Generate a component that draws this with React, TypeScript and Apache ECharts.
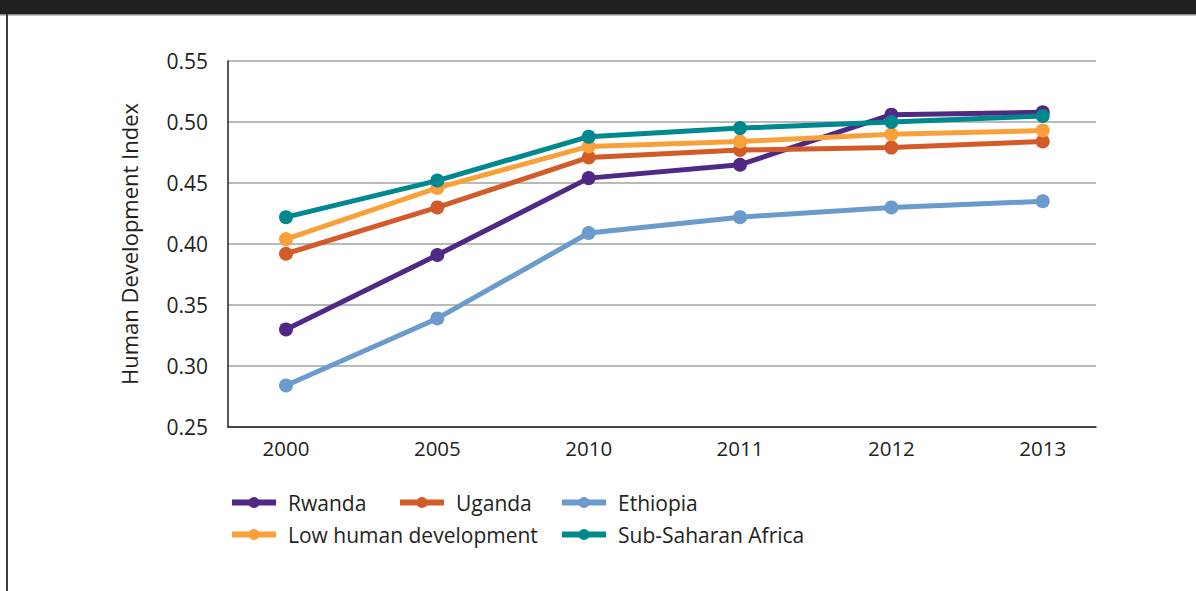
import React, { useEffect, useRef } from "react";
import * as echarts from "echarts";

const years = ["2000", "2005", "2010", "2011", "2012", "2013"];
const seriesNames = ["Rwanda", "Uganda", "Ethiopia", "Low human development", "Sub-Saharan Africa"];
const rwanda = [0.33, 0.391, 0.454, 0.465, 0.506, 0.508];
const uganda = [0.392, 0.43, 0.471, 0.477, 0.479, 0.484];
const ethiopia = [0.284, 0.339, 0.409, 0.422, 0.43, 0.435];
const lowHD = [0.404, 0.446, 0.48, 0.484, 0.49, 0.493];
const ssa = [0.422, 0.452, 0.488, 0.495, 0.5, 0.505];
const colors = ["#4f2984", "#d25b27", "#6a9bcc", "#f8a13a", "#00888f"];

const FONT = "Open Sans";
const TEXT = "#231f20";

export default function App() {
  const ref = useRef<HTMLDivElement>(null);
  useEffect(() => {
    if (!ref.current) return;
    const chart = echarts.init(ref.current, undefined, { renderer: "svg" });
    const all = [rwanda, uganda, ethiopia, lowHD, ssa];
    const legendPos = [
      [229, 499],
      [397, 499],
      [559, 499],
      [229, 531],
      [559, 531],
    ];
    chart.setOption({
      animation: false,
      backgroundColor: "#ffffff",
      grid: { left: 228, top: 61, width: 868, height: 366, containLabel: false },
      xAxis: {
        type: "value",
        min: -0.3832,
        max: 5.352,
        axisLine: { show: true, onZero: false, lineStyle: { color: TEXT, width: 1.5 } },
        axisTick: { show: false },
        splitLine: { show: false },
        axisLabel: {
          customValues: [0, 1, 2, 3, 4, 5],
          formatter: (v: number) => years[Math.round(v)],
          fontFamily: FONT,
          fontSize: 20.5,
          color: TEXT,
          margin: 10,
        },
      },
      yAxis: {
        type: "value",
        min: 0.25,
        max: 0.55,
        interval: 0.05,
        name: "Human Development Index",
        nameLocation: "middle",
        nameGap: 88,
        nameTextStyle: { fontFamily: FONT, fontSize: 22, color: TEXT },
        axisLine: { show: true, onZero: false, lineStyle: { color: TEXT, width: 1.5 } },
        axisTick: { show: false },
        splitLine: { show: true, lineStyle: { color: "#a3a3a3", width: 1.5 } },
        axisLabel: {
          formatter: (v: number) => v.toFixed(2),
          fontFamily: FONT,
          fontSize: 21,
          color: TEXT,
          margin: 20,
          padding: [12, 0, 0, 0],
        },
      },
      legend: seriesNames.map((n, i) => ({
        data: [n],
        left: legendPos[i][0],
        top: legendPos[i][1] - 7,
        itemWidth: 44,
        itemHeight: 14,
        padding: 0,
        lineStyle: { width: 6 },
        textStyle: { fontFamily: FONT, fontSize: 21, color: TEXT, padding: [0, 0, 0, 7] },
      })),
      graphic: [
        { type: "rect", shape: { x: 0, y: 0, width: 1196, height: 14 }, style: { fill: "#231f20" } },
        { type: "rect", shape: { x: 0, y: 14, width: 1196, height: 1.5 }, style: { fill: "#8a8a8a" } },
        { type: "rect", shape: { x: 6, y: 14, width: 2, height: 577 }, style: { fill: "#3c3c3c" } },
      ],
      series: seriesNames.map((n, i) => ({
        name: n,
        type: "line",
        data: all[i].map((v, j) => [j, v]),
        color: colors[i],
        lineStyle: { width: 5, color: colors[i] },
        itemStyle: { color: colors[i] },
        symbol: "circle",
        symbolSize: 14,
        z: 2 + i,
      })),
    });
    return () => chart.dispose();
  }, []);
  return (
    <div
      ref={ref}
      style={{ position: "absolute", left: 0, top: 0, width: 1196, height: 591 }}
    />
  );
}
